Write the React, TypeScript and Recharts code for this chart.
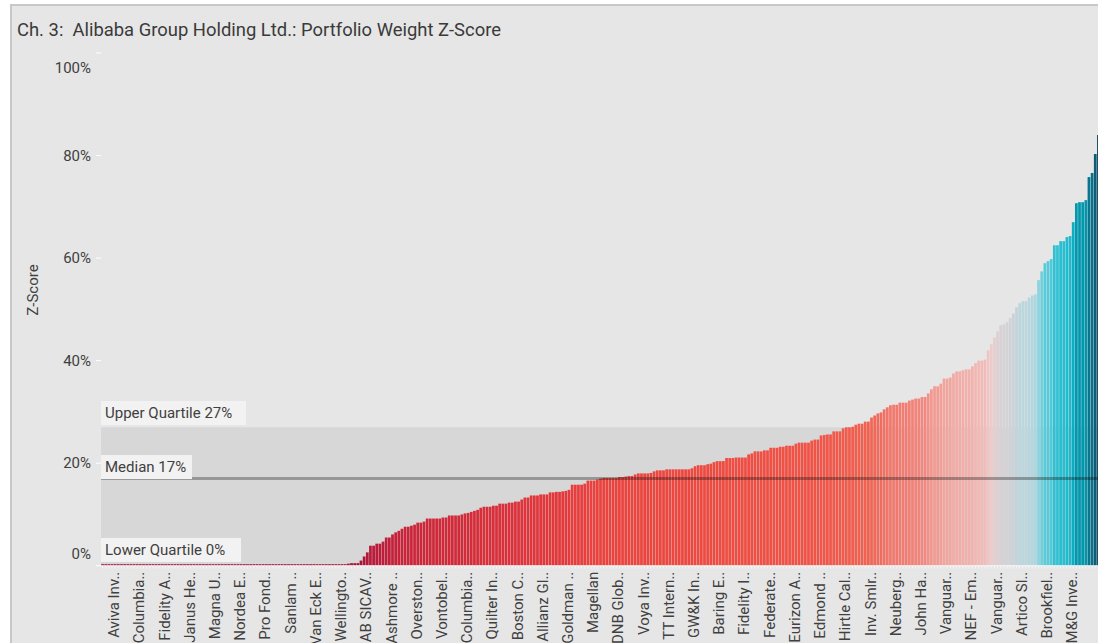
import React from 'react';
import { BarChart, Bar, XAxis, YAxis, ReferenceArea, ReferenceLine } from 'recharts';

// every 8th fund name is shown on the axis
const tickLabels = [
  'Aviva Inv..', 'Columbia..', 'Fidelity A..', 'Janus He..', 'Magna U..', 'Nordea E..', 'Pro Fond..',
  'Sanlam ..', 'Van Eck E..', 'Wellingto..', 'AB SICAV..', 'Ashmore ..', 'Overston..', 'Vontobel..',
  'Columbia..', 'Quilter In..', 'Boston C..', 'Allianz Gl..', 'Goldman ..', 'Magellan', 'DNB Glob..',
  'Voya Inv..', 'TT Intern..', 'GW&K In..', 'Baring E..', 'Fidelity I..', 'Federate..', 'Eurizon A..',
  'Edmond ..', 'Hirtle Cal..', 'Inv. Smlr..', 'Neuberg..', 'John Ha..', 'Vanguar..', 'NEF - Em..',
  'Vanguar..', 'Artico Sl..', 'Brookfiel..', 'M&G Inve..',
];

// portfolio weight z-score (%), sorted ascending
const zScores = [
  0, 0, 0, 0, 0, 0, 0, 0, 0, 0,
  0, 0, 0, 0, 0, 0, 0, 0, 0, 0,
  0, 0, 0, 0, 0, 0, 0, 0, 0, 0,
  0, 0, 0, 0, 0, 0, 0, 0, 0, 0,
  0, 0, 0, 0, 0, 0, 0, 0, 0, 0,
  0, 0, 0, 0, 0, 0, 0, 0, 0, 0,
  0, 0, 0, 0, 0, 0, 0, 0, 0, 0,
  0, 0, 0, 0, 0, 0, 0, 0, 0.4, 0.5,
  0.5, 0.5, 1.0, 1.8, 2.6, 3.9, 3.9, 4.3, 4.3, 4.7,
  5.5, 5.5, 6.1, 6.5, 6.8, 7.2, 7.6, 7.6, 7.8, 8.0,
  8.4, 8.4, 8.6, 9.2, 9.2, 9.2, 9.2, 9.2, 9.4, 9.4,
  9.8, 9.8, 9.8, 9.8, 10.0, 10.2, 10.3, 10.5, 10.7, 10.9,
  11.3, 11.5, 11.5, 11.5, 11.7, 11.7, 12.1, 12.1, 12.1, 12.3,
  12.3, 12.5, 12.5, 12.9, 13.3, 13.3, 13.7, 13.7, 13.7, 13.9,
  13.9, 13.9, 14.3, 14.3, 14.4, 14.4, 14.5, 14.6, 14.8, 15.8,
  15.8, 15.8, 15.8, 16.0, 16.6, 16.6, 16.6, 16.8, 17.0, 17.1,
  17.1, 17.1, 17.1, 17.1, 17.3, 17.3, 17.4, 17.5, 17.5, 17.8,
  18.0, 18.0, 18.0, 18.0, 18.1, 18.4, 18.6, 18.6, 18.6, 18.8,
  18.8, 18.8, 18.8, 18.8, 18.8, 18.8, 18.8, 19.0, 19.4, 19.6,
  19.6, 19.6, 19.8, 19.9, 20.2, 20.4, 20.4, 20.4, 21.0, 21.0,
  21.0, 21.1, 21.1, 21.1, 21.1, 21.7, 21.9, 22.3, 22.3, 22.3,
  22.5, 22.5, 23.0, 23.0, 23.0, 23.2, 23.2, 23.4, 23.4, 23.4,
  23.8, 24.0, 24.0, 24.0, 24.0, 24.4, 24.6, 24.6, 25.4, 25.5,
  25.6, 25.6, 26.2, 26.2, 26.2, 26.8, 27.0, 27.0, 27.1, 27.5,
  27.7, 27.7, 28.1, 28.1, 28.9, 29.3, 29.7, 29.9, 30.5, 30.9,
  31.3, 31.4, 31.4, 31.8, 31.8, 31.8, 32.2, 32.4, 32.6, 32.6,
  32.9, 32.9, 33.6, 34.4, 35.0, 35.0, 35.5, 36.5, 36.5, 36.7,
  37.5, 37.9, 37.9, 38.1, 38.3, 38.3, 38.9, 39.5, 40.0, 40.0,
  40.2, 42.0, 43.2, 44.5, 45.7, 46.9, 47.1, 47.5, 48.3, 49.2,
  50.4, 51.2, 51.6, 51.6, 52.3, 52.7, 52.9, 55.7, 57.4, 59.0,
  59.4, 59.8, 62.5, 62.5, 63.3, 63.3, 64.1, 64.3, 67.0, 70.7,
  70.9, 70.9, 71.3, 75.8, 76.6, 80.3, 84.0,
];

const yTicks = [0, 20, 40, 60, 80, 100];
const upperQuartile = 27;
const median = 17;
const lowerQuartile = 0;

// diverging palette keyed on the bar value
const colorStops: [number, string][] = [
  [0, '#a51139'], [6, '#c4203a'], [10, '#d32a39'], [14, '#e2363b'], [17, '#ec423d'],
  [21, '#f04c41'], [25, '#f15447'], [28, '#f1604f'], [30, '#f16d60'], [32, '#f27e74'],
  [34, '#f3948c'], [37, '#f2a8a2'], [40, '#f2bab6'], [43, '#eecbca'], [46, '#dbd0d4'],
  [49, '#cbd3d8'], [52, '#b8d6dd'], [55, '#95d6e1'], [58, '#66cedd'], [62, '#33c4d6'],
  [65, '#18b7cb'], [69, '#03a0b6'], [72, '#0093aa'], [76, '#07748e'], [80, '#0c5e79'],
  [84, '#134a64'],
];

const hexToRgb = (h: string) => [1, 3, 5].map(i => parseInt(h.slice(i, i + 2), 16));

const colorFor = (v: number) => {
  if (v <= colorStops[0][0]) return colorStops[0][1];
  for (let i = 1; i < colorStops.length; i++) {
    const [v1, c1] = colorStops[i];
    if (v <= v1) {
      const [v0, c0] = colorStops[i - 1];
      const t = (v - v0) / (v1 - v0);
      const a = hexToRgb(c0);
      const b = hexToRgb(c1);
      const rgb = a.map((x, k) => Math.round(x + (b[k] - x) * t));
      return `rgb(${rgb.join(',')})`;
    }
  }
  return colorStops[colorStops.length - 1][1];
};

const data = zScores.map((value, idx) => ({ idx, value }));
const tickIdx = tickLabels.map((_, k) => 4 + k * 8);

const FONT = 'Roboto, sans-serif';
const TEXT = '#404040';

const XTick = (props: any) => {
  const { x, y, payload } = props;
  const label = tickLabels[(payload.value - 4) / 8];
  return (
    <text transform={`translate(${x - 1},${y}) rotate(-90)`} textAnchor="end" dominantBaseline="central"
      fontSize={15} fill={TEXT} fontFamily={FONT}>
      {label}
    </text>
  );
};

const YTick = (props: any) => {
  const { x, y, payload } = props;
  // end labels are pushed inside the plot like the original
  let dy = 0;
  if (payload.value === 100) dy = 15;
  if (payload.value === 0) dy = -12;
  return (
    <text x={x} y={y + dy} textAnchor="end" dominantBaseline="central" fontSize={15} fill={TEXT} fontFamily={FONT}>
      {`${payload.value}%`}
    </text>
  );
};

const BarShape = (props: any) => {
  const { x, y, height, payload } = props;
  const base = y + height;
  return (
    <g>
      <rect x={x + 0.2} y={y} width={2.75} height={height} fill={colorFor(payload.value)} />
      <rect x={x + 1} y={base} width={1} height={3} fill="#ffffff" fillOpacity={0.6} />
    </g>
  );
};

const BoxLabel = (props: any) => {
  const { viewBox, text, boxW, top } = props;
  const { x, y } = viewBox;
  return (
    <g>
      <rect x={x} y={y + top} width={boxW} height={24} fill="#f2f2f2" />
      <text x={x + 4} y={y + top + 12} dominantBaseline="central" fontSize={15} fill={TEXT} fontFamily={FONT}>
        {text}
      </text>
    </g>
  );
};

const App: React.FC = () => {
  return (
    <div style={{ position: 'absolute', left: 0, top: 0, width: 1098, height: 643, overflow: 'hidden', background: '#fff' }}>
      <div style={{
        position: 'absolute', left: 10, top: 4, width: 1200, height: 800, background: '#e6e6e6',
        borderLeft: '2px solid #c8c8c8', borderTop: '2px solid #c8c8c8',
      }} />
      <svg style={{ position: 'absolute', left: 0, top: 0 }} width={1098} height={643}>
        <text x={17} y={36} fontSize={19} fill="#3a3a3a" fontFamily={FONT} textLength={484}
          lengthAdjust="spacingAndGlyphs" style={{ whiteSpace: 'pre' }}>
          {'Ch. 3:  Alibaba Group Holding Ltd.: Portfolio Weight Z-Score'}
        </text>
        <text transform="translate(33,290) rotate(-90)" textAnchor="middle" dominantBaseline="central"
          fontSize={15} fill={TEXT} fontFamily={FONT}>
          Z-Score
        </text>
      </svg>
      <div style={{ position: 'absolute', left: 0, top: 0 }}>
        <BarChart width={1100} height={700} data={data} barCategoryGap={0}
          margin={{ top: 53, right: 0, left: 20, bottom: 34.3 }}>
          <ReferenceArea y1={lowerQuartile} y2={upperQuartile} fill="#d7d7d7" fillOpacity={1} stroke="none" />
          <XAxis dataKey="idx" type="category" ticks={tickIdx} interval={0} tick={<XTick />}
            tickLine={false} axisLine={{ stroke: '#ffffff', strokeOpacity: 0.8 }} height={100} tickSize={6} tickMargin={0} />
          <YAxis domain={[0, 100]} ticks={yTicks} width={81} tick={<YTick />} tickSize={5} tickMargin={5}
            tickLine={{ stroke: '#ffffff' }} axisLine={false} />
          <Bar dataKey="value" shape={<BarShape />} minPointSize={1.5} isAnimationActive={false} />
          <ReferenceLine y={median} stroke="rgba(0,0,0,0.3)" strokeWidth={3}
            label={<BoxLabel text={`Median ${median}%`} boxW={91} top={-23.5} />} />
          <ReferenceLine y={upperQuartile} stroke="none"
            label={<BoxLabel text={`Upper Quartile ${upperQuartile}%`} boxW={145} top={-26.3} />} />
          <ReferenceLine y={lowerQuartile} stroke="none"
            label={<BoxLabel text={`Lower Quartile ${lowerQuartile}%`} boxW={140} top={-27.7} />} />
        </BarChart>
      </div>
    </div>
  );
};

export default App;
